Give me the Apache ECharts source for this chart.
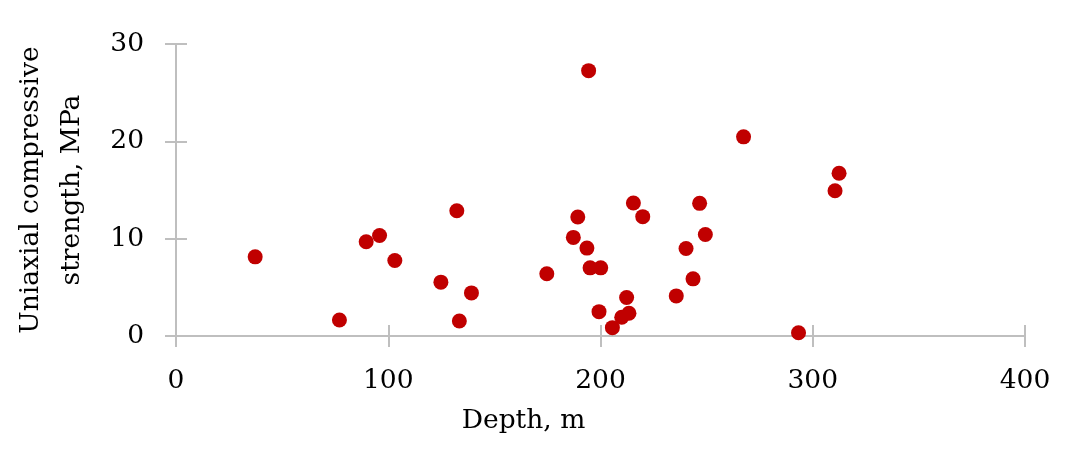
<!DOCTYPE html>
<html><head><meta charset="utf-8">
<script src="https://cdn.jsdelivr.net/npm/echarts@6/dist/echarts.min.js"></script>
<style>html,body{margin:0;padding:0;background:#fff}#c{width:1068px;height:451px}</style>
</head><body><div id="c"></div>
<script>
const depth = [37.3, 77.0, 89.6, 95.9, 103.1, 124.8, 132.3, 133.5, 139.2, 174.7, 187.2, 189.3, 193.6, 194.4, 195.1, 199.3, 200.1, 205.6, 210.0, 212.3, 213.4, 215.5, 219.9, 235.7, 240.3, 243.6, 246.7, 249.4, 267.4, 293.3, 310.5, 312.4];
const ucs   = [8.13, 1.65, 9.68, 10.33, 7.76, 5.53, 12.87, 1.54, 4.43, 6.39, 10.13, 12.22, 9.03, 27.26, 7.0, 2.5, 7.0, 0.86, 1.93, 3.95, 2.34, 13.67, 12.26, 4.12, 8.99, 5.87, 13.63, 10.43, 20.46, 0.34, 14.93, 16.72];
const xTitle = 'Depth, m';
const yTitle = 'Uniaxial compressive\nstrength, MPa';

const font = 'DejaVu Serif';
const axisColor = '#bfbfbf';
const points = depth.map((d, i) => [d, ucs[i]]);

const chart = echarts.init(document.getElementById('c'), null, {renderer: 'canvas'});
chart.setOption({
  animation: false,
  grid: {left: 176, right: 43, top: 44, bottom: 115, containLabel: false, outerBoundsMode: 'none'},
  xAxis: [{
    type: 'value', min: 0, max: 400, interval: 100, position: 'bottom',
    name: xTitle, nameLocation: 'middle', nameGap: 72,
    nameTextStyle: {fontFamily: font, fontSize: 26.5, color: '#000', padding: [0, 154, 0, 0]},
    axisLine: {show: true, lineStyle: {color: axisColor, width: 2}},
    axisTick: {show: true, inside: false, length: 11, lineStyle: {color: axisColor, width: 2}},
    axisLabel: {fontFamily: font, fontSize: 26.5, color: '#000', margin: 32},
    splitLine: {show: false}
  }, {
    type: 'value', min: 0, max: 400, interval: 100, position: 'bottom', offset: 0,
    axisLine: {show: false},
    axisTick: {show: true, inside: true, length: 11, lineStyle: {color: axisColor, width: 2}},
    axisLabel: {show: false}, splitLine: {show: false}
  }],
  yAxis: [{
    type: 'value', min: 0, max: 30, interval: 10, position: 'left',
    name: yTitle, nameLocation: 'middle', nameGap: 83, nameRotate: 90,
    nameTextStyle: {fontFamily: font, fontSize: 26.5, color: '#000', lineHeight: 41, align: 'center'},
    axisLine: {show: true, lineStyle: {color: axisColor, width: 2}},
    axisTick: {show: true, inside: false, length: 11, lineStyle: {color: axisColor, width: 2}},
    axisLabel: {fontFamily: font, fontSize: 26.5, color: '#000', margin: 32},
    splitLine: {show: false}
  }, {
    type: 'value', min: 0, max: 30, interval: 10, position: 'left', offset: 0,
    axisLine: {show: false},
    axisTick: {show: true, inside: true, length: 11, lineStyle: {color: axisColor, width: 2}},
    axisLabel: {show: false}, splitLine: {show: false}
  }],
  series: [{
    type: 'scatter', xAxisIndex: 0, yAxisIndex: 0,
    data: points, symbol: 'circle', symbolSize: 15,
    itemStyle: {color: '#c00000', opacity: 1}
  }]
});
</script></body></html>
